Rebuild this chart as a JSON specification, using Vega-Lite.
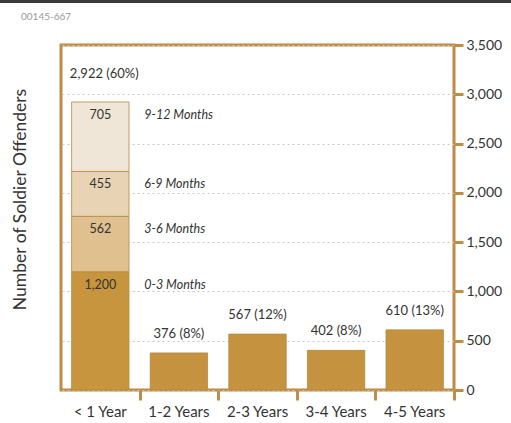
{
  "$schema": "https://vega.github.io/schema/vega-lite/v6.json",
  "padding": {"left": 0, "top": 0, "right": 0, "bottom": 0},
  "background": "white",
  "config": {
    "view": {"stroke": null},
    "font": "Lato",
    "text": {"font": "Lato", "color": "#333333"}
  },
  "datasets": {
    "segs": [
      {"period": "< 1 Year", "segment": "0-3 Months", "count": 1200, "rank": 1},
      {"period": "< 1 Year", "segment": "3-6 Months", "count": 562, "rank": 2},
      {"period": "< 1 Year", "segment": "6-9 Months", "count": 455, "rank": 3},
      {"period": "< 1 Year", "segment": "9-12 Months", "count": 705, "rank": 4},
      {"period": "1-2 Years", "segment": "All", "count": 376, "rank": 1},
      {"period": "2-3 Years", "segment": "All", "count": 567, "rank": 1},
      {"period": "3-4 Years", "segment": "All", "count": 402, "rank": 1},
      {"period": "4-5 Years", "segment": "All", "count": 610, "rank": 1}
    ],
    "totals": [
      {"period": "< 1 Year", "total": 2922, "label": "2,922 (60%)"},
      {"period": "1-2 Years", "total": 376, "label": "376 (8%)"},
      {"period": "2-3 Years", "total": 567, "label": "567 (12%)"},
      {"period": "3-4 Years", "total": 402, "label": "402 (8%)"},
      {"period": "4-5 Years", "total": 610, "label": "610 (13%)"}
    ]
  },
  "vconcat": [
    {
      "width": 511,
      "height": 3,
      "data": {"values": [{"a": 1}]},
      "mark": {"type": "rect", "color": "#3a3a3a"},
      "encoding": {}
    },
    {
      "spacing": 0,
      "hconcat": [
        {
          "width": 1,
          "height": 10,
          "data": {"values": [{"a": 1}]},
          "mark": {"type": "text", "text": ""},
          "encoding": {}
        },
        {
          "width": 393,
          "height": 345,
          "view": {"stroke": "#be8c45", "strokeWidth": 3},
          "title": {
            "text": ["", "00145-667"],
            "lineHeight": 9,
            "anchor": "start",
            "frame": "group",
            "dx": -40,
            "offset": 16,
            "fontSize": 10,
            "fontWeight": "normal",
            "font": "Lato",
            "color": "#9a9a9a"
          },
          "resolve": {"axis": {"x": "independent", "y": "independent"}},
          "layer": [
            {
              "data": {"name": "segs"},
              "mark": {"type": "bar", "width": {"band": 0.73}, "stroke": "#b8873e", "strokeWidth": 0.8},
              "encoding": {
                "x": {
                  "field": "period", "type": "nominal",
                  "sort": ["< 1 Year", "1-2 Years", "2-3 Years", "3-4 Years", "4-5 Years"],
                  "scale": {"paddingInner": 0, "paddingOuter": 0},
                  "axis": {
                    "orient": "bottom", "title": null, "domain": false, "ticks": false,
                    "labelAngle": 0, "labelPadding": 14, "labelFontSize": 15, "labelColor": "#333333", "labelFont": "Lato"
                  }
                },
                "y": {
                  "field": "count", "type": "quantitative", "stack": "zero",
                  "scale": {"domain": [0, 3500], "nice": false},
                  "axis": {
                    "orient": "right", "title": null, "domain": false,
                    "values": [0, 500, 1000, 1500, 2000, 2500, 3000, 3500],
                    "format": ",d",
                    "tickColor": "#be8c45", "tickSize": 9, "tickWidth": 3,
                    "labelPadding": 3, "labelFontSize": 14, "labelColor": "#333333", "labelFont": "Lato",
                    "grid": true, "gridDash": [2, 3], "gridColor": "#c8c8c8", "gridWidth": 1
                  }
                },
                "order": {"field": "rank", "type": "quantitative"},
                "color": {
                  "field": "segment", "type": "nominal", "legend": null,
                  "scale": {
                    "domain": ["0-3 Months", "3-6 Months", "6-9 Months", "9-12 Months", "All"],
                    "range": ["#c8953f", "#dfc08e", "#e8d4b4", "#efe6d8", "#c5933f"]
                  }
                }
              }
            },
            {
              "data": {"name": "segs"},
              "transform": [{"filter": "datum.segment != 'All'"}],
              "mark": {"type": "text", "dy": 13, "fontSize": 12.5, "baseline": "middle"},
              "encoding": {
                "x": {"field": "period", "type": "nominal", "sort": ["< 1 Year", "1-2 Years", "2-3 Years", "3-4 Years", "4-5 Years"], "axis": null},
                "y": {"field": "count", "type": "quantitative", "stack": "zero", "axis": null},
                "order": {"field": "rank", "type": "quantitative"},
                "detail": {"field": "segment"},
                "text": {"field": "count", "type": "quantitative", "format": ","}
              }
            },
            {
              "data": {"name": "segs"},
              "transform": [{"filter": "datum.segment != 'All'"}],
              "mark": {"type": "text", "dy": 13, "dx": 44, "align": "left", "fontSize": 12.5, "fontStyle": "italic", "baseline": "middle"},
              "encoding": {
                "x": {
                  "field": "period", "type": "nominal",
                  "sort": ["< 1 Year", "1-2 Years", "2-3 Years", "3-4 Years", "4-5 Years"],
                  "axis": {
                    "orient": "bottom", "title": null, "labels": false, "domain": false,
                    "values": ["1-2 Years", "2-3 Years", "3-4 Years", "4-5 Years"],
                    "tickBand": "extent", "tickColor": "#be8c45", "tickSize": 10, "tickWidth": 3
                  }
                },
                "y": {
                  "field": "count", "type": "quantitative", "stack": "zero",
                  "axis": {
                    "orient": "left", "title": "Number of Soldier Offenders",
                    "labels": false, "ticks": false, "grid": false,
                    "domain": true, "domainColor": "transparent", "offset": 58,
                    "titleX": 17, "titleY": 154, "titleBaseline": "middle", "titleAlign": "center", "titleAngle": -90,
                    "titleFontSize": 17.5, "titleFontWeight": "normal", "titleColor": "#333333", "titleFont": "Lato"
                  }
                },
                "order": {"field": "rank", "type": "quantitative"},
                "detail": {"field": "segment"},
                "text": {"field": "segment"}
              }
            },
            {
              "data": {"name": "totals"},
              "transform": [{"filter": "datum.period == '< 1 Year'"}],
              "mark": {"type": "text", "dy": -28, "dx": 4, "fontSize": 13, "baseline": "middle"},
              "encoding": {
                "x": {"field": "period", "type": "nominal", "sort": ["< 1 Year", "1-2 Years", "2-3 Years", "3-4 Years", "4-5 Years"], "axis": null},
                "y": {"field": "total", "type": "quantitative", "axis": null},
                "text": {"field": "label"}
              }
            },
            {
              "data": {"name": "totals"},
              "transform": [{"filter": "datum.period != '< 1 Year'"}],
              "mark": {"type": "text", "dy": -19, "fontSize": 13, "baseline": "middle"},
              "encoding": {
                "x": {"field": "period", "type": "nominal", "sort": ["< 1 Year", "1-2 Years", "2-3 Years", "3-4 Years", "4-5 Years"], "axis": null},
                "y": {"field": "total", "type": "quantitative", "axis": null},
                "text": {"field": "label"}
              }
            }
          ]
        }
      ]
    }
  ],
  "spacing": -2
}
